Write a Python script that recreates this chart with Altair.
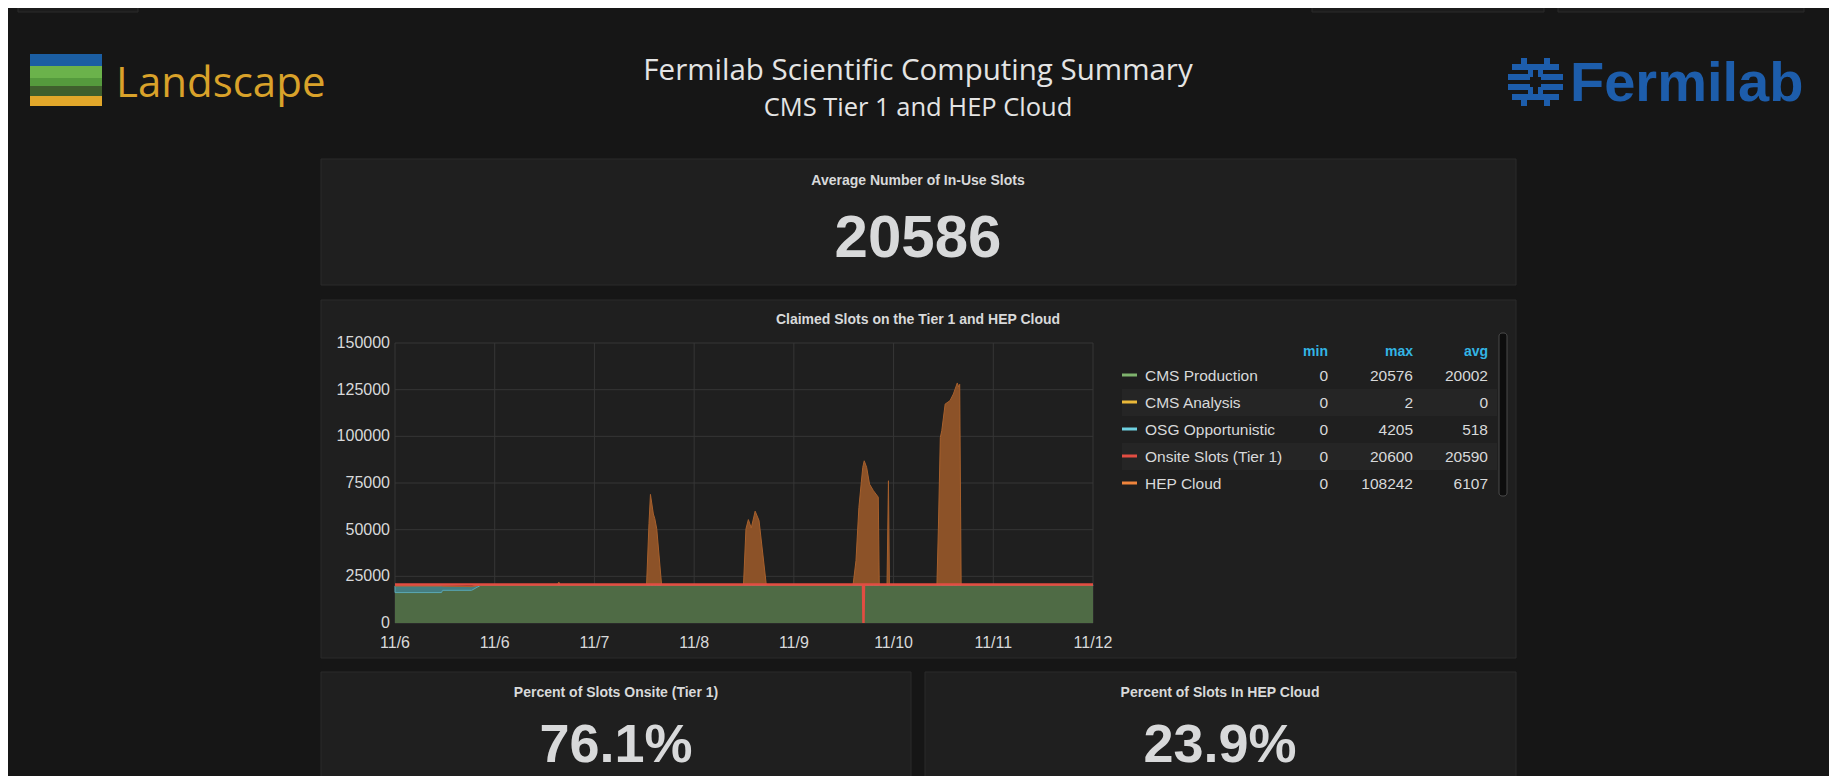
import altair as alt
import pandas as pd

# ------------------------------------------------------------------ data
# hours since 11/6 00:00 (time range 11/6 00:00 .. 11/12 00:00)
hours = [0, 9.6, 9.8, 15.8, 17.6, 33.5, 33.8, 34.1, 51.9, 52.4, 52.7, 53.3, 53.6,
         54.0, 55.0, 71.9, 72.4, 72.9, 73.5, 74.3, 75.1, 76.6, 94.5, 95.1, 95.7,
         96.5, 96.8, 97.3, 97.9, 98.7, 99.7, 99.9, 101.5, 101.8, 102.0, 111.8,
         112.1, 112.5, 112.8, 113.5, 114.5, 115.2, 116.0, 116.3, 116.5, 116.8, 144]
cms_production = [16300, 16300, 17500, 17500, 20100, 20100, 20100, 20100, 20100,
                  20100, 20100, 20100, 20100, 20100, 20100, 20100, 20100, 20100,
                  20100, 20100, 20100, 20100, 20100, 20100, 20100, 20100, 20100,
                  20100, 20100, 20100, 20100, 20100, 20100, 20100, 20100, 20100,
                  20100, 20100, 20100, 20100, 20100, 20100, 20100, 20100, 20100,
                  20100, 20100]
osg_opportunistic = [3600, 3600, 2300, 2000, 300, 300, 300, 300, 300, 300, 300,
                     300, 300, 300, 300, 300, 300, 300, 300, 300, 300, 300, 300,
                     300, 300, 300, 300, 300, 300, 300, 300, 300, 300, 300, 300,
                     300, 300, 300, 300, 300, 300, 300, 300, 300, 300, 300, 300]
hep_cloud = [0, 0, 0, 0, 0, 0, 1500, 0, 0, 33000, 48500, 38000, 35500, 30000, 0,
             0, 30000, 35000, 30500, 39500, 34500, 0, 0, 13000, 41500, 63000,
             66500, 63000, 54000, 50500, 47000, 0, 0, 55800, 0, 0, 30000, 79000,
             82600, 96900, 98700, 102300, 108200, 106000, 107500, 0, 0]

onsite_hours = [0, 96.55, 96.65, 96.75, 144]
onsite_tier1 = [20600, 20600, 0, 20600, 20600]

x_tick_labels = ["11/6", "11/6", "11/7", "11/8", "11/9", "11/10", "11/11", "11/12"]
y_ticks = [0, 25000, 50000, 75000, 100000, 125000, 150000]

legend_series = ["CMS Production", "CMS Analysis", "OSG Opportunistic",
                 "Onsite Slots (Tier 1)", "HEP Cloud"]
legend_min = [0, 0, 0, 0, 0]
legend_max = [20576, 2, 4205, 20600, 108242]
legend_avg = [20002, 0, 518, 20590, 6107]
legend_colors = ["#7EB26D", "#EAB839", "#6ED0E0", "#E24D42", "#EF843C"]

stat_titles = ["Average Number of In-Use Slots", "Percent of Slots Onsite (Tier 1)",
               "Percent of Slots In HEP Cloud"]
stat_values = ["20586", "76.1%", "23.9%"]

# ------------------------------------------------------------------ layout helpers
W, H = 1821, 768
OFF = 8
def P(v):
    return v - OFF

BG = "#161616"
PANEL = "#1f1f1f"
PANEL_STROKE = "#2a2a2a"
TXT = "#d8d9da"
GRID = "#363636"
FONT = "Liberation Sans"

dummy = pd.DataFrame({"k": [0]})
base = alt.Chart(dummy)

def box(x1, y1, x2, y2, fill, stroke=None, sw=1, r=0):
    kw = dict(fill=fill)
    if stroke:
        kw.update(stroke=stroke, strokeWidth=sw)
    else:
        kw.update(strokeWidth=0)
    if r:
        kw.update(cornerRadius=r)
    return base.mark_rect(**kw).encode(
        x=alt.value(P(x1)), x2=alt.value(P(x2)),
        y=alt.value(P(y1)), y2=alt.value(P(y2)))

def label(text, x, y, size, color=TXT, weight="normal", align="center",
          font=FONT):
    return base.mark_text(text=text, fontSize=size, color=color, fontWeight=weight,
                          align=align, baseline="alphabetic", font=font).encode(
        x=alt.value(P(x)), y=alt.value(P(y)))

def data_text(df, field, x, y, size, color=TXT, weight="normal", align="center",
              font=FONT):
    return alt.Chart(df).mark_text(fontSize=size, color=color, fontWeight=weight,
                                   align=align, baseline="alphabetic", font=font).encode(
        text=alt.Text(f"{field}:N"), x=alt.value(P(x)), y=alt.value(P(y)))

layers = []

# top nav remnants
layers += [box(18, 0, 138, 12, "#1c1c1c", "#2a2a2a"),
           box(1312, 0, 1544, 12, "#1c1c1c", "#2a2a2a"),
           box(1558, 0, 1804, 12, "#1c1c1c", "#2a2a2a")]

# Landscape logo
layers += [box(30, 54, 102, 66, "#1b5ea3"),
           box(30, 66, 102, 80, "#6bb24b"),
           box(30, 78, 102, 88, "#559a3d"),
           box(30, 86, 102, 96, "#3f5f2d"),
           box(30, 96, 102, 106, "#e2a72a"),
           label("Landscape", 116, 97, 42, color="#d9a22a", font="Open Sans",
                 align="left")]

# Header titles
layers += [label("Fermilab Scientific Computing Summary", 918, 80, 29.5,
                 color="#e4e4e4", font="Open Sans"),
           label("CMS Tier 1 and HEP Cloud", 918, 116, 25.5, color="#e4e4e4",
                 font="Open Sans")]

# Fermilab logo (icon approximation + word)
FB = "#1d5dab"
layers += [box(1521, 58, 1527, 70, FB), box(1544, 58, 1550, 70, FB),
           box(1512, 64, 1559, 70, FB),
           box(1508, 74, 1530, 80, FB), box(1541, 74, 1563, 80, FB),
           box(1528, 70, 1533, 77, FB), box(1538, 70, 1543, 77, FB),
           box(1508, 84, 1530, 90, FB), box(1541, 84, 1563, 90, FB),
           box(1528, 87, 1533, 94, FB), box(1538, 87, 1543, 94, FB),
           box(1512, 94, 1559, 100, FB),
           box(1521, 94, 1527, 106, FB), box(1544, 94, 1550, 106, FB),
           label("Fermilab", 1570, 101, 56, color=FB, weight="bold", align="left")]

# Panels
layers += [box(321, 159, 1516, 285, PANEL, PANEL_STROKE),
           box(321, 300, 1516, 658, PANEL, PANEL_STROKE),
           box(321, 672, 911, 790, PANEL, PANEL_STROKE),
           box(925, 672, 1516, 790, PANEL, PANEL_STROKE)]

# Stat panels
stat_df = [pd.DataFrame({"t": [stat_titles[i]], "v": [stat_values[i]]}) for i in range(3)]
layers += [data_text(stat_df[0], "t", 918, 185, 14, weight="bold"),
           data_text(stat_df[0], "v", 918, 257, 60, weight="bold"),
           data_text(stat_df[1], "t", 616, 697, 14, weight="bold"),
           data_text(stat_df[1], "v", 616, 762, 54, weight="bold"),
           data_text(stat_df[2], "t", 1220, 697, 14, weight="bold"),
           data_text(stat_df[2], "v", 1220, 762, 54, weight="bold")]

# Graph title
layers.append(label("Claimed Slots on the Tier 1 and HEP Cloud", 918, 324, 14,
                    weight="bold"))

# ------------------------------------------------------------------ graph
X0, X1, YT, YB = 395, 1093, 343, 623
xscale = alt.Scale(domain=[0, 144], range=[P(X0), P(X1)], nice=False, zero=False)
yscale = alt.Scale(domain=[0, 150000], range=[P(YB), P(YT)], nice=False, zero=True)
tick_hours = [i * 144 / 7 for i in range(len(x_tick_labels))]

vgrid = alt.Chart(pd.DataFrame({"h": tick_hours})).mark_rule(
    color=GRID, strokeWidth=1).encode(
    x=alt.X("h:Q", scale=xscale, axis=None),
    y=alt.value(P(YT)), y2=alt.value(P(YB)))
hgrid = alt.Chart(pd.DataFrame({"v": y_ticks})).mark_rule(
    color=GRID, strokeWidth=1).encode(
    y=alt.Y("v:Q", scale=yscale, axis=None),
    x=alt.value(P(X0)), x2=alt.value(P(X1)))
layers += [vgrid, hgrid]

# tick labels drawn through the same scales
xlab = alt.Chart(pd.DataFrame({"h": tick_hours, "lab": x_tick_labels})).mark_text(
    fontSize=16, color=TXT, font=FONT, align="center", baseline="alphabetic").encode(
    x=alt.X("h:Q", scale=xscale, axis=None), y=alt.value(P(648)),
    text=alt.Text("lab:N"))
ylab = alt.Chart(pd.DataFrame({"v": y_ticks})).mark_text(
    fontSize=16, color=TXT, font=FONT, align="right", baseline="middle").encode(
    y=alt.Y("v:Q", scale=yscale, axis=None), x=alt.value(P(390)),
    text=alt.Text("v:Q", format="d"))
layers += [xlab, ylab]

series_names = ["CMS Production", "OSG Opportunistic", "HEP Cloud"]
series_vals = [cms_production, osg_opportunistic, hep_cloud]
series_fills = ["#4f6b45", "#457d80", "#8c5228"]
series_strokes = ["rgba(0,0,0,0)", "#5aa9b5", "#a8602c"]
rows = []
for k, (nm, vals) in enumerate(zip(series_names, series_vals)):
    for h, v in zip(hours, vals):
        rows.append({"hour": h, "series": nm, "value": v, "ord": k})
stack_df = pd.DataFrame(rows)

area = alt.Chart(stack_df).mark_area(fillOpacity=1, strokeWidth=1,
                                     interpolate="linear").encode(
    x=alt.X("hour:Q", scale=xscale, axis=None),
    y=alt.Y("value:Q", stack="zero", scale=yscale, axis=None),
    color=alt.Color("series:N", scale=alt.Scale(domain=series_names, range=series_fills),
                    legend=None),
    stroke=alt.Stroke("series:N", scale=alt.Scale(domain=series_names, range=series_strokes),
                      legend=None),
    order=alt.Order("ord:Q"),
)
layers.append(area)

onsite_df = pd.DataFrame({"hour": onsite_hours, "value": onsite_tier1})
red = alt.Chart(onsite_df).mark_line(color="#E24D42", strokeWidth=2.5).encode(
    x=alt.X("hour:Q", scale=xscale, axis=None),
    y=alt.Y("value:Q", scale=yscale, axis=None))
layers.append(red)

# ------------------------------------------------------------------ legend table
layers += [box(1122, 389, 1497, 416, "#252525"), box(1122, 443, 1497, 470, "#252525")]
layers += [label("min", 1328, 356, 14, color="#33b5e5", weight="bold", align="right"),
           label("max", 1413, 356, 14, color="#33b5e5", weight="bold", align="right"),
           label("avg", 1488, 356, 14, color="#33b5e5", weight="bold", align="right")]
leg_df = pd.DataFrame({"series": legend_series, "min": legend_min,
                       "max": legend_max, "avg": legend_avg})
for i in range(len(legend_series)):
    cy = 375 + i * 27
    d = leg_df.iloc[[i]]
    layers.append(box(1122, cy - 1.5, 1137, cy + 1.5, legend_colors[i]))
    layers.append(data_text(d, "series", 1145, cy + 6, 15.5, align="left"))
    layers.append(data_text(d, "min", 1328, cy + 6, 15.5, align="right"))
    layers.append(data_text(d, "max", 1413, cy + 6, 15.5, align="right"))
    layers.append(data_text(d, "avg", 1488, cy + 6, 15.5, align="right"))

# scrollbar
layers.append(box(1499, 333, 1507, 496, "#0d0d0d", "#4a4a4a", 1, 3))

chart = alt.layer(*layers).properties(
    width=W, height=H, padding=0,
    autosize=alt.AutoSizeParams(type="none"),
    background=BG,
).configure_view(strokeWidth=0)

chart.save("out.html", embed_options={"renderer": "svg", "actions": False})
